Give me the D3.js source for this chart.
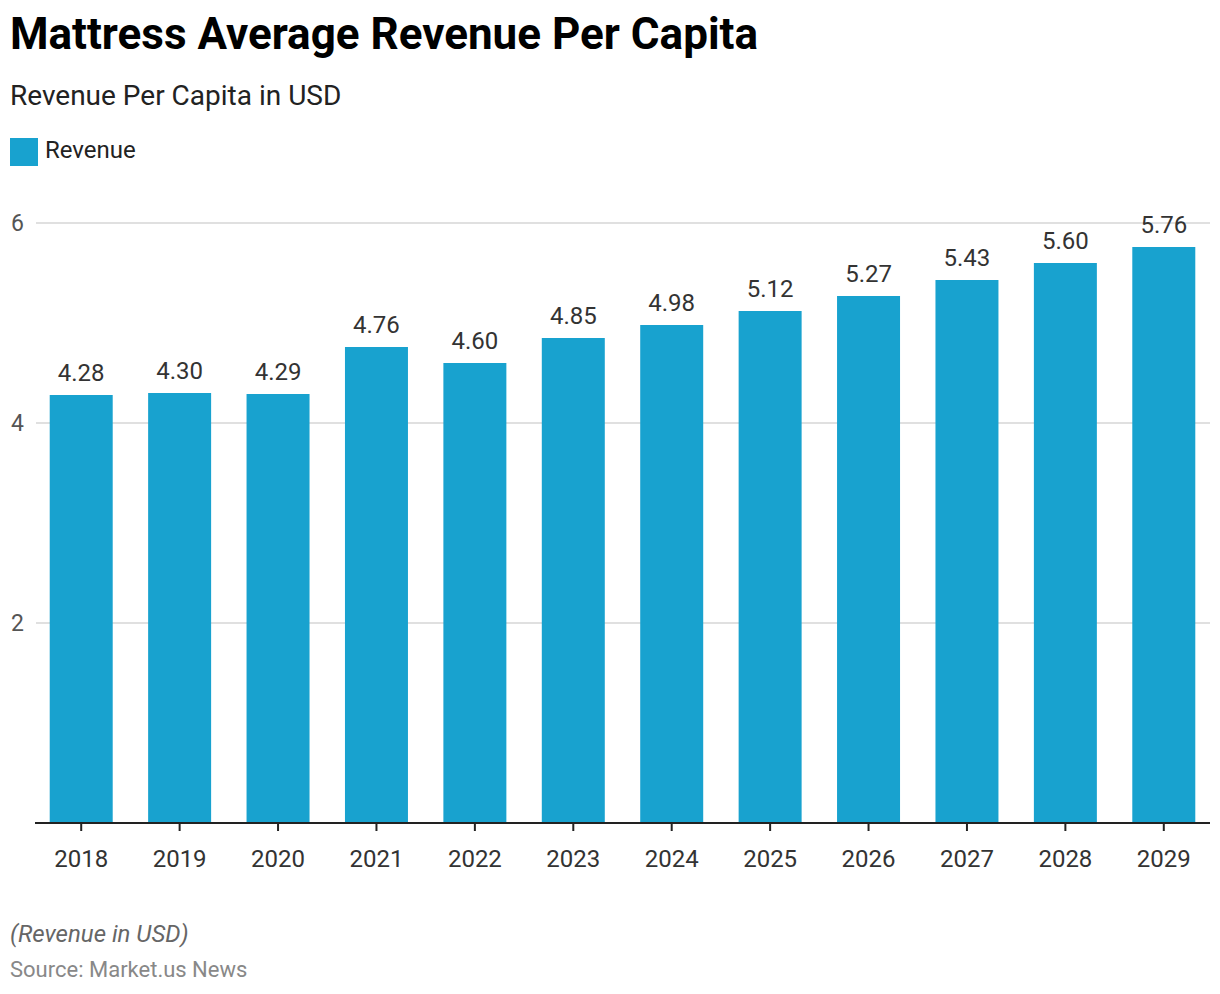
<!DOCTYPE html>
<html>
<head>
<meta charset="utf-8">
<script src="https://cdn.jsdelivr.net/npm/d3@7"></script>
<style>
  body { margin: 0; background: #fff; }
  svg { font-family: Roboto, "Noto Sans", sans-serif; display: block; }
</style>
</head>
<body>
<svg id="chart" width="1220" height="994"></svg>
<script>
var years = ["2018", "2019", "2020", "2021", "2022", "2023", "2024", "2025", "2026", "2027", "2028", "2029"];
var revenue = [4.28, 4.30, 4.29, 4.76, 4.60, 4.85, 4.98, 5.12, 5.27, 5.43, 5.60, 5.76];
var yTicks = [2, 4, 6];

var svg = d3.select("#chart");
var margin = {top: 223, left: 36, right: 10, bottom: 171};
var width = 1220 - margin.left - margin.right;
var height = 994 - margin.top - margin.bottom;

// title block
svg.append("text").attr("x", 10).attr("y", 49)
  .attr("font-size", 44).attr("font-weight", "bold").attr("fill", "#000")
  .text("Mattress Average Revenue Per Capita");
svg.append("text").attr("x", 10).attr("y", 105)
  .attr("font-size", 28).attr("fill", "#222")
  .text("Revenue Per Capita in USD");

svg.append("rect").attr("x", 10).attr("y", 138).attr("width", 28).attr("height", 28)
  .attr("fill", "#18a2cf");
svg.append("text").attr("x", 45).attr("y", 158)
  .attr("font-size", 24).attr("fill", "#222").text("Revenue");

var g = svg.append("g").attr("transform", "translate(" + margin.left + "," + margin.top + ")");

var x = d3.scaleBand().domain(years).range([-4, width + 3]).paddingInner(0.36).paddingOuter(0.18);
var y = d3.scaleLinear().domain([0, 6]).range([height, 0]);

// grid
g.selectAll(".grid").data(yTicks).enter().append("line")
  .attr("x1", 0).attr("x2", width)
  .attr("y1", function(d) { return y(d); })
  .attr("y2", function(d) { return y(d); })
  .attr("stroke", "#d6d6d6").attr("stroke-width", 1.5);

g.selectAll(".ylab").data(yTicks).enter().append("text")
  .attr("x", -12).attr("y", function(d) { return y(d); })
  .attr("dy", "0.35em").attr("text-anchor", "end")
  .attr("font-size", 23).attr("fill", "#555")
  .text(function(d) { return d; });

// bars
g.selectAll(".bar").data(revenue).enter().append("rect")
  .attr("class", "bar")
  .attr("x", function(d, i) { return x(years[i]); })
  .attr("y", function(d) { return y(d); })
  .attr("width", x.bandwidth())
  .attr("height", function(d) { return height - y(d); })
  .attr("fill", "#18a2cf");

g.selectAll(".val").data(revenue).enter().append("text")
  .attr("x", function(d, i) { return x(years[i]) + x.bandwidth() / 2; })
  .attr("y", function(d) { return y(d) - 14; })
  .attr("text-anchor", "middle")
  .attr("font-size", 24).attr("fill", "#333")
  .text(function(d) { return d.toFixed(2); });

// x axis
var xAxis = g.append("g").attr("transform", "translate(0," + height + ")")
  .call(d3.axisBottom(x).tickSize(8).tickPadding(0));
xAxis.select(".domain").attr("d", "M-1,0H" + width).attr("stroke", "#222").attr("stroke-width", 2);
xAxis.selectAll(".tick line").attr("stroke", "#222").attr("stroke-width", 2);
xAxis.selectAll(".tick text")
  .attr("y", 44).attr("dy", null)
  .attr("font-family", "Roboto, sans-serif").attr("font-size", 24).attr("fill", "#333");

// footer
svg.append("text").attr("x", 10).attr("y", 942)
  .attr("font-size", 24).attr("font-style", "italic").attr("fill", "#666")
  .text("(Revenue in USD)");
svg.append("text").attr("x", 10).attr("y", 977)
  .attr("font-size", 22).attr("fill", "#888")
  .text("Source: Market.us News");
</script>
</body>
</html>
